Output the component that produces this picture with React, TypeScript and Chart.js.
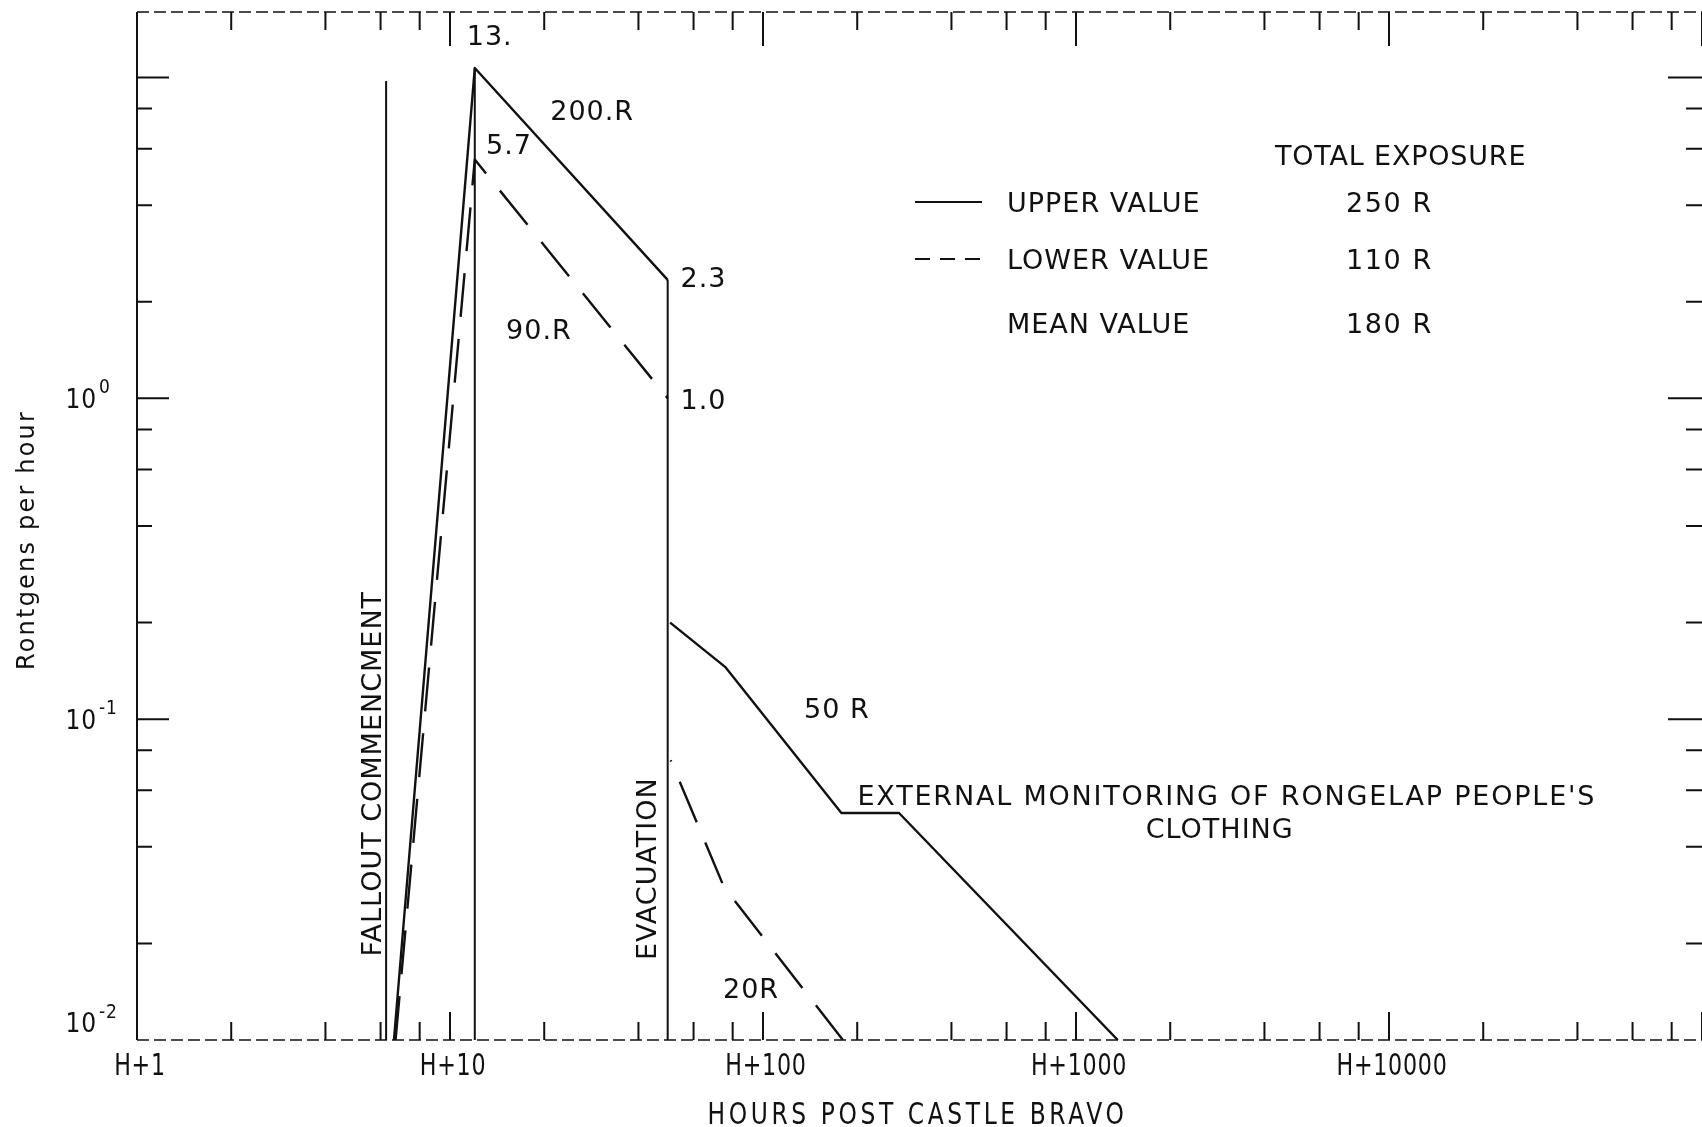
import React, { useEffect, useRef } from "react";
import { Chart, registerables } from "chart.js";

Chart.register(...registerables);

// ---------------- data (hours after Castle Bravo, roentgens per hour) ----------------
const upperRiseHours = [6.62, 12.0, 49.6];
const upperRiseRate = [0.01, 10.7, 2.34];
const lowerRiseHours = [6.7, 12.0, 49.6];
const lowerRiseRate = [0.01, 5.55, 1.0];
const upperPostHours = [50.5, 76, 178, 272, 1360];
const upperPostRate = [0.2, 0.145, 0.051, 0.051, 0.01];
const lowerPostHours = [180, 75, 50.7];
const lowerPostRate = [0.01, 0.03, 0.0745];
const falloutHours = [6.25, 6.25];
const falloutRate = [0.01, 9.75];
const peakHours = [12.0, 12.0];
const peakRate = [0.01, 10.7];
const evacHours = [49.6, 49.6];
const evacRate = [0.01, 2.34];

// ---------------- axes ----------------
const xDecades = [1, 10, 100, 1000, 10000, 100000];
const xTickLabels = ["H+1", "H+10", "H+100", "H+1000", "H+10000"];
const yDecades = [0.01, 0.1, 1, 10];
const yTickExponents = ["-2", "-1", "0"];
const minorMultipliers = [2, 4, 6, 8];
const xTitle = "HOURS POST CASTLE BRAVO";
const yTitle = "Rontgens per hour";

// ---------------- annotations (left-anchored, in data coordinates) ----------------
const noteTexts = ["13.", "200.R", "5.7", "2.3", "90.R", "1.0", "50 R", "20R"];
const noteHours = [11.31, 20.9, 13.03, 54.5, 15.1, 54.5, 135.2, 74.5];
const noteRates = [13.6, 7.91, 6.22, 2.38, 1.648, 0.993, 0.1082, 0.01448];
const monitorText = "EXTERNAL MONITORING OF RONGELAP PEOPLE'S";
const monitorHour = 200.4;
const monitorRate = 0.0581;
const centredTexts = ["CLOTHING"];
const centredHours = [2878];
const centredRates = [0.0457];
const verticalTexts = ["FALLOUT COMMENCMENT", "EVACUATION"];
const verticalHours = [5.59, 42.3];
const verticalRates = [0.0676, 0.0342];

// ---------------- legend ----------------
const legendTitle = "TOTAL EXPOSURE";
const legendLabels = ["UPPER VALUE", "LOWER VALUE", "MEAN VALUE"];
const legendTotals = ["250 R", "110 R", "180 R"];

const INK = "#111111";
const NOTE_FONT = '27px "DejaVu Sans"';

function pts(hours: number[], rates: number[]) {
  return hours.map((h, i) => ({ x: h, y: rates[i] }));
}

function drawText(
  ctx: CanvasRenderingContext2D,
  text: string,
  x: number,
  y: number,
  font: string,
  size: number,
  align: CanvasTextAlign = "left",
  spacing = 1,
  scaleX = 1,
  rotate = 0
) {
  ctx.save();
  ctx.translate(x, y);
  if (rotate) ctx.rotate(rotate);
  ctx.scale(scaleX, 1);
  ctx.font = font;
  (ctx as any).letterSpacing = spacing + "px";
  ctx.textAlign = align;
  ctx.textBaseline = "alphabetic";
  ctx.fillStyle = INK;
  ctx.fillText(text, 0, size * 0.365);
  ctx.restore();
}

const overlayPlugin = {
  id: "scanOverlay",
  afterDatasetsDraw(chart: any) {
    const ctx: CanvasRenderingContext2D = chart.ctx;
    const { left, right, top, bottom } = chart.chartArea;
    const xs = chart.scales.x;
    const ys = chart.scales.y;
    ctx.save();
    ctx.strokeStyle = INK;
    ctx.lineCap = "butt";

    // axis frame
    ctx.lineWidth = 2;
    ctx.beginPath();
    ctx.moveTo(left, top);
    ctx.lineTo(left, bottom);
    ctx.stroke();
    ctx.lineWidth = 1.5;
    ctx.setLineDash([12, 5]);
    ctx.beginPath();
    ctx.moveTo(left, bottom);
    ctx.lineTo(right, bottom);
    ctx.moveTo(left, top);
    ctx.lineTo(right, top);
    ctx.stroke();
    ctx.setLineDash([]);

    // x ticks (bottom pointing up, top pointing down)
    ctx.lineWidth = 2;
    xDecades.forEach((d) => {
      const px = xs.getPixelForValue(d);
      if (d > xs.min && px <= right + 0.5) {
        ctx.beginPath();
        ctx.moveTo(px, bottom);
        ctx.lineTo(px, bottom - 28);
        ctx.moveTo(px, top);
        ctx.lineTo(px, top + 34);
        ctx.stroke();
      }
      minorMultipliers.forEach((m) => {
        const v = d * m;
        if (v < xs.max) {
          const p = xs.getPixelForValue(v);
          ctx.beginPath();
          ctx.moveTo(p, bottom);
          ctx.lineTo(p, bottom - 18);
          ctx.moveTo(p, top);
          ctx.lineTo(p, top + 18);
          ctx.stroke();
        }
      });
    });

    // y ticks (left pointing right, right pointing left)
    yDecades.forEach((d) => {
      const py = ys.getPixelForValue(d);
      if (d > ys.min) {
        ctx.beginPath();
        ctx.moveTo(left, py);
        ctx.lineTo(left + 32, py);
        ctx.moveTo(right, py);
        ctx.lineTo(right - 34, py);
        ctx.stroke();
      }
      minorMultipliers.forEach((m) => {
        const v = d * m;
        if (v < ys.max) {
          const p = ys.getPixelForValue(v);
          ctx.beginPath();
          ctx.moveTo(left, p);
          ctx.lineTo(left + 15, p);
          ctx.moveTo(right, p);
          ctx.lineTo(right - 16, p);
          ctx.stroke();
        }
      });
    });

    // x tick labels
    xTickLabels.forEach((t, i) => {
      const px = xs.getPixelForValue(xDecades[i]);
      drawText(ctx, t, px + 3, bottom + 24, '30px "DejaVu Sans"', 30, "center", 1, 0.74);
    });

    // y tick labels 10^n
    yTickExponents.forEach((e, i) => {
      let py = ys.getPixelForValue(yDecades[i]);
      if (i === 0) py -= 17;
      drawText(ctx, "10", left - 40, py, '26px "DejaVu Sans"', 26, "right", 1, 0.9);
      drawText(ctx, e, left - 38, py - 12, '19px "DejaVu Sans"', 19, "left", 1, 0.9);
    });

    // axis titles
    drawText(ctx, xTitle, (left + right) / 2 - 2, bottom + 73, '30px "DejaVu Sans"', 30, "center", 4.6, 0.78);
    drawText(ctx, yTitle, 27, 540, '24px "DejaVu Sans"', 18, "center", 2.2, 1, -Math.PI / 2);

    // annotations
    noteTexts.forEach((t, i) => {
      drawText(ctx, t, xs.getPixelForValue(noteHours[i]), ys.getPixelForValue(noteRates[i]), NOTE_FONT, 27, "left", 1);
    });
    drawText(ctx, monitorText, xs.getPixelForValue(monitorHour), ys.getPixelForValue(monitorRate), NOTE_FONT, 27, "left", 1.8);
    centredTexts.forEach((t, i) => {
      drawText(ctx, t, xs.getPixelForValue(centredHours[i]), ys.getPixelForValue(centredRates[i]), NOTE_FONT, 27, "center", 1);
    });
    verticalTexts.forEach((t, i) => {
      drawText(ctx, t, xs.getPixelForValue(verticalHours[i]), ys.getPixelForValue(verticalRates[i]), NOTE_FONT, 27, "center", 1, 1, -Math.PI / 2);
    });

    // legend
    drawText(ctx, legendTitle, 1275, 155, NOTE_FONT, 27, "left", 0.8);
    const rows = [202, 259, 323];
    legendLabels.forEach((t, i) => {
      drawText(ctx, t, 1007, rows[i], NOTE_FONT, 27, "left", 1);
      drawText(ctx, legendTotals[i], 1346, rows[i], NOTE_FONT, 27, "left", 1.6);
    });
    ctx.lineWidth = 2;
    ctx.beginPath();
    ctx.moveTo(915, rows[0]);
    ctx.lineTo(982, rows[0]);
    ctx.stroke();
    ctx.setLineDash([15, 10]);
    ctx.beginPath();
    ctx.moveTo(915, rows[1]);
    ctx.lineTo(982, rows[1]);
    ctx.stroke();
    ctx.setLineDash([]);
    ctx.restore();
  },
};

export default function App() {
  const canvasRef = useRef<HTMLCanvasElement | null>(null);

  useEffect(() => {
    document.body.style.margin = "0";
    document.body.style.background = "#ffffff";
    const canvas = canvasRef.current;
    if (!canvas) return;

    const line = (hours: number[], rates: number[], dashed: boolean, width: number) => ({
      data: pts(hours, rates),
      borderColor: INK,
      borderWidth: width,
      borderDash: dashed ? [44, 22] : [],
      borderJoinStyle: "round" as const,
      pointRadius: 0,
      fill: false,
      tension: 0,
    });

    const chart = new Chart(canvas, {
      type: "line",
      data: {
        datasets: [
          line(falloutHours, falloutRate, false, 2),
          line(peakHours, peakRate, false, 2),
          line(evacHours, evacRate, false, 2),
          line(upperRiseHours, upperRiseRate, false, 2.4),
          line(lowerRiseHours, lowerRiseRate, true, 2.4),
          line(upperPostHours, upperPostRate, false, 2.4),
          line(lowerPostHours, lowerPostRate, true, 2.4),
        ] as any,
      },
      options: {
        animation: false,
        responsive: false,
        devicePixelRatio: 1,
        layout: { padding: { left: 137, right: 0, top: 12, bottom: 87 } },
        plugins: { legend: { display: false }, tooltip: { enabled: false } },
        scales: {
          x: { type: "logarithmic", min: 1, max: 100000, display: false },
          y: { type: "logarithmic", min: 0.01, max: 16, display: false },
        },
      },
      plugins: [overlayPlugin],
    });
    return () => chart.destroy();
  }, []);

  return (
    <canvas
      ref={canvasRef}
      width={1702}
      height={1127}
      style={{ display: "block", width: 1702, height: 1127, background: "#ffffff" }}
    />
  );
}
